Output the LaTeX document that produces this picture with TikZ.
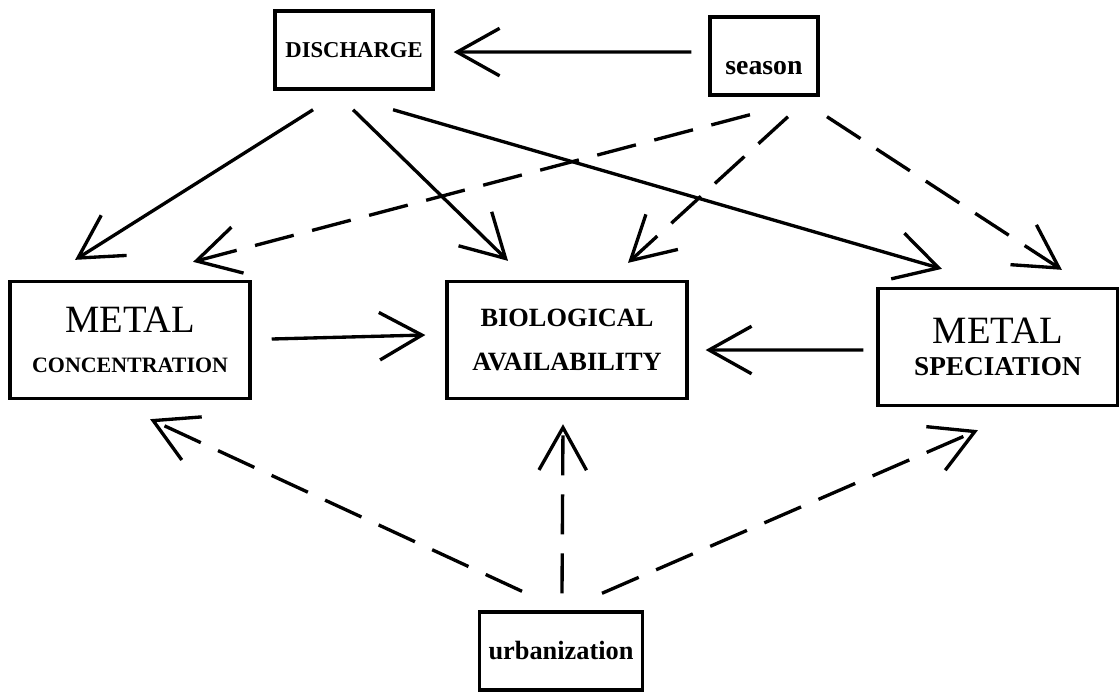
\documentclass[tikz,border=0pt]{standalone}
\usepackage{fontspec}
\setmainfont{Liberation Serif}
\usetikzlibrary{positioning,calc,arrows.meta}

\begin{document}
\begin{tikzpicture}[
	x=0.02cm, y=-0.02cm,
	on grid,
	line width=1.9pt,
	align=center,
	box/.style={
		draw,
		inner sep=2pt,
		font=\bfseries\fontsize{15}{18}\selectfont
	},
	big/.style={
		minimum width=4.8cm,
		minimum height=2.34cm
	},
	small/.style={
		minimum height=1.56cm
	},
	link/.style={-{Straight Barb[length=0.85cm,width=0.95cm]}},
	weak/.style={link, dash pattern=on 0.8cm off 0.38cm}]

	\useasboundingbox (0,0) rectangle (1119,694);

	% the three effects in one row
	\node[box, big] (bio) at (567,340) {BIOLOGICAL\\[7.5pt]AVAILABILITY};
	\node[box, big, left=8.74cm of bio, font=\bfseries\fontsize{12.5}{15}\selectfont] (conc)
		{{\mdseries\fontsize{22}{26}\selectfont METAL}\\[7.7pt]CONCENTRATION};
	\node[box, big, below right=0.14cm and 8.62cm of bio, font=\bfseries\fontsize{15.5}{18.6}\selectfont] (spec)
		{{\mdseries\fontsize{22}{26}\selectfont METAL}\\SPECIATION};

	% the causes
	\node[box, small, minimum width=3.16cm, above left=5.8cm and 4.26cm of bio,
		font=\bfseries\fontsize{12.9}{15}\selectfont] (dis) {DISCHARGE};
	\node[box, small, minimum width=2.16cm, above right=5.68cm and 3.94cm of bio,
		text height=0.72cm, text depth=0pt,
		font=\bfseries\fontsize{15.8}{19}\selectfont] (sea) {season};
	\node[box, small, minimum width=3.26cm, below=6.22cm of bio, xshift=-0.12cm] (urb) {urbanization};

	\draw[link] ($(sea.west)+(-17,-4)$) -- ($(dis.east)+(19,2)$);

	% discharge
	\draw[link] ($(dis.south)+(-41,19)$) -- ($(conc.north)+(-55,-20)$);
	\draw[link] ($(dis.south)+(-1,19)$) -- ($(bio.north)+(-59,-19)$);
	\draw[link] ($(dis.south)+(39,19)$) -- ($(spec.north)+(-56,-18)$);

	% season
	\draw[weak] ($(sea.south)+(-14,18)$) -- ($(conc.north)+(63,-18)$);
	\draw[weak] ($(sea.south)+(24,20)$) -- ($(bio.north)+(61,-17)$);
	\draw[weak] ($(sea.south)+(63,20)$) -- ($(spec.north)+(64,-17)$);

	% metal
	\draw[link] ($(conc.east)+(20,-1)$) -- ($(bio.west)+(-20,-5)$);
	\draw[link] ($(spec.west)+(-13,3)$) -- ($(bio.east)+(17,10)$);

	% urbanization
	\draw[weak] ($(urb.north)+(-39,-19)$) -- ($(conc.south)+(20,19)$);
	\draw[weak] ($(urb.north)+(1,-17)$) -- ($(bio.south)+(-4,24)$);
	\draw[weak] ($(urb.north)+(41,-17)$) -- ($(spec.south)+(-20,23)$);
\end{tikzpicture}
\end{document}
